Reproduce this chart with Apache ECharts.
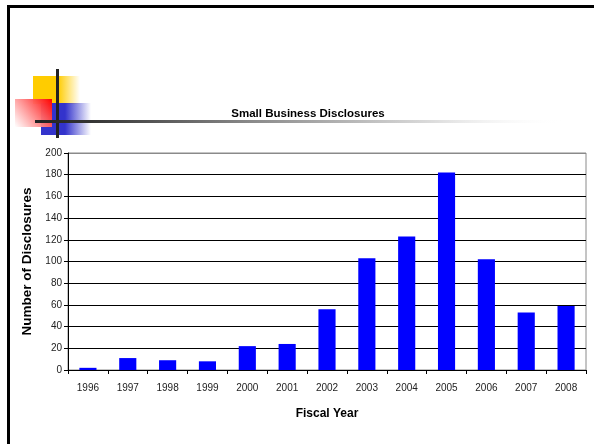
<!DOCTYPE html>
<html>
<head>
<meta charset="utf-8">
<script src="https://cdn.jsdelivr.net/npm/echarts@6/dist/echarts.min.js"></script>
<style>
  html, body { margin: 0; padding: 0; background: #fff; }
  #chart { width: 594px; height: 444px; }
</style>
</head>
<body>
<div id="chart"></div>
<script>
// Fiscal years and small business disclosure counts
const years = ['1996', '1997', '1998', '1999', '2000', '2001', '2002', '2003', '2004', '2005', '2006', '2007', '2008'];
const disclosures = [2, 11, 9, 8, 22, 24, 56, 103, 123, 182, 102, 53, 59];
const yTicks = [0, 20, 40, 60, 80, 100, 120, 140, 160, 180, 200];

const chart = echarts.init(document.getElementById('chart'), null, { renderer: 'canvas' });

// grid line colours: black lines, grey line at the top of the plot
const gridColors = yTicks.map((v, i) => (i === yTicks.length - 1 ? '#8a8a8a' : '#000'));

chart.setOption({
  animation: false,
  backgroundColor: '#fff',
  title: {
    text: 'Small Business Disclosures',
    left: 303,
    top: 103,
    textAlign: 'center',
    textStyle: { fontFamily: 'Liberation Sans, Arial, sans-serif', fontSize: 11.5, fontWeight: 'bold', color: '#000' }
  },
  grid: {
    left: 68, right: 8, top: 153, bottom: 74,
    show: true, borderColor: '#8a8a8a', borderWidth: 1, backgroundColor: 'transparent'
  },
  xAxis: {
    type: 'category',
    data: years,
    name: 'Fiscal Year',
    nameLocation: 'middle',
    nameGap: 38,
    nameTextStyle: { fontFamily: 'Liberation Sans, Arial, sans-serif', fontSize: 12, fontWeight: 'bold', color: '#000' },
    axisLine: { lineStyle: { color: '#000', width: 1 } },
    axisTick: { show: true, alignWithLabel: false, length: 4, lineStyle: { color: '#000' } },
    axisLabel: { fontFamily: 'Liberation Sans, Arial, sans-serif', fontSize: 10, color: '#222', margin: 13 }
  },
  yAxis: {
    type: 'value',
    min: 0, max: 200, interval: 20,
    name: 'Number of Disclosures',
    nameLocation: 'middle',
    nameRotate: 90,
    nameGap: 27,
    nameTextStyle: { fontFamily: 'Liberation Sans, Arial, sans-serif', fontSize: 13.5, fontWeight: 'bold', color: '#000' },
    axisLine: { show: true, lineStyle: { color: '#000', width: 1 } },
    axisTick: { show: true, length: 4, lineStyle: { color: '#000' } },
    axisLabel: { fontFamily: 'Liberation Sans, Arial, sans-serif', fontSize: 10, color: '#222', margin: 6 },
    splitLine: { show: true, lineStyle: { color: gridColors, width: 1 } }
  },
  series: [{
    type: 'bar',
    data: disclosures,
    barWidth: '43%',
    itemStyle: { color: '#0000ff' }
  }],
  graphic: [
    // slide frame (top and left edges)
    { type: 'rect', shape: { x: 7, y: 5, width: 587, height: 3 }, style: { fill: '#000' }, silent: true },
    { type: 'rect', shape: { x: 7, y: 5, width: 3, height: 439 }, style: { fill: '#000' }, silent: true },
    // yellow square fading to the right
    { type: 'rect', shape: { x: 33, y: 76, width: 47, height: 28 }, silent: true,
      style: { fill: new echarts.graphic.LinearGradient(0, 0, 1, 0, [
        { offset: 0, color: '#ffcc00' }, { offset: 0.53, color: '#ffcc00' }, { offset: 1, color: 'rgba(255,204,0,0)' }]) } },
    // blue square fading to the right
    { type: 'rect', shape: { x: 41, y: 103, width: 50, height: 32 }, silent: true,
      style: { fill: new echarts.graphic.LinearGradient(0, 0, 1, 0, [
        { offset: 0, color: '#3333cc' }, { offset: 0.48, color: '#3333cc' }, { offset: 1, color: 'rgba(51,51,204,0)' }]) } },
    // red square fading towards the lower left
    { type: 'rect', shape: { x: 15, y: 99, width: 37, height: 28 }, silent: true,
      style: { fill: new echarts.graphic.LinearGradient(1, 0, 0, 1, [
        { offset: 0, color: '#ff0000' }, { offset: 1, color: 'rgba(255,255,255,0.9)' }]) } },
    // vertical bar of the cross
    { type: 'rect', shape: { x: 56, y: 69, width: 3, height: 69 }, style: { fill: '#222' }, silent: true },
    // horizontal rule fading to the right
    { type: 'rect', shape: { x: 35, y: 120, width: 530, height: 3 }, silent: true,
      style: { fill: new echarts.graphic.LinearGradient(0, 0, 1, 0, [
        { offset: 0, color: '#222' }, { offset: 0.1, color: '#333' }, { offset: 0.4, color: '#888' },
        { offset: 0.75, color: '#dcdcdc' }, { offset: 1, color: 'rgba(255,255,255,0)' }]) } }
  ]
});
</script>
</body>
</html>
